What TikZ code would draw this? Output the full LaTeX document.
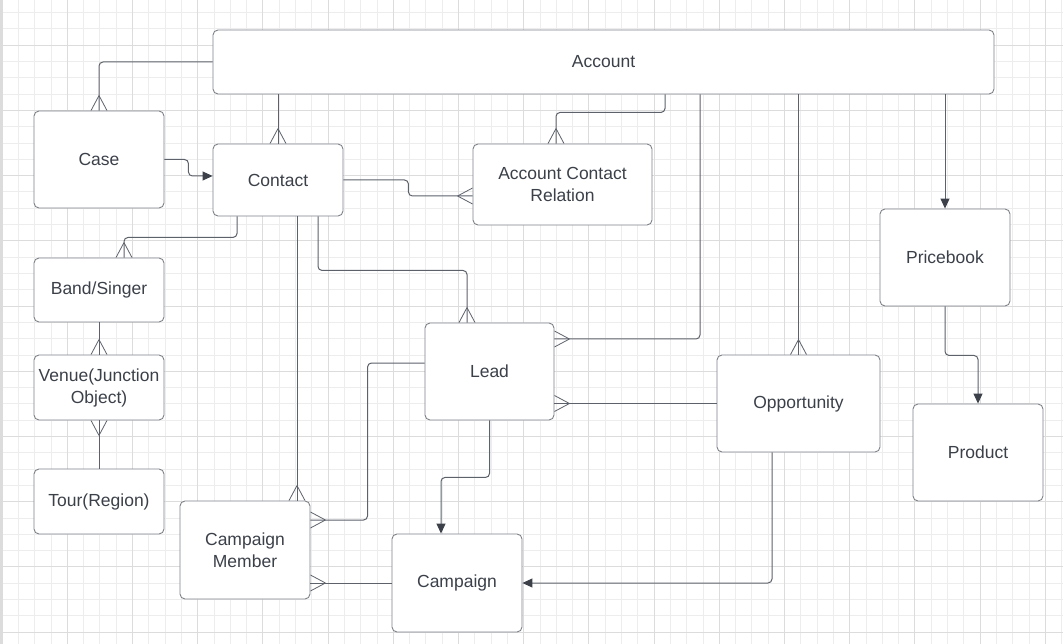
\documentclass[tikz,border=0pt]{standalone}
\usepackage{fontspec}
\setmainfont{Liberation Sans}
\usetikzlibrary{arrows.meta,decorations.markings,calc}
\definecolor{gridminor}{HTML}{EDEDED}
\definecolor{gridmajor}{HTML}{DCDCDC}
\definecolor{boxline}{HTML}{7E8289}
\definecolor{connline}{HTML}{5D626A}
\definecolor{txtcol}{HTML}{3B4049}
\definecolor{tipcol}{HTML}{3B4049}
\tikzset{
  entity/.style={draw=boxline,fill=white,line width=0.9pt,rounded corners=5pt,
    inner sep=0pt,align=center,text=txtcol,font=\fontsize{17.5}{22}\selectfont},
  conn/.style={draw=connline,line width=1pt,rounded corners=4pt},
  arr/.style={-{Triangle[length=10pt,width=9pt,fill=tipcol,color=tipcol]}},
  crow/.style={postaction={decorate,decoration={markings,
    mark=at position 1 with {\draw[draw=connline,line width=0.8pt,sharp corners]
      (-15pt,0) -- (0,8pt) (-15pt,0) -- (0,-8pt);}}}}
}
\begin{document}
\begin{tikzpicture}[x=1pt,y=-1pt]
\useasboundingbox (0,0) rectangle (1063,644);
\fill[white] (0,0) rectangle (1063,644);
% grid
\foreach \i in {0,...,65} {\draw[gridminor,line width=0.8pt] ({2+16.3*\i},0) -- ({2+16.3*\i},644);}
\foreach \j in {0,...,38} {\draw[gridminor,line width=0.8pt] (0,{12.6+16.3*\j}) -- (1063,{12.6+16.3*\j});}
\foreach \i in {0,...,16} {\draw[gridmajor,line width=0.9pt] ({2+65.2*\i},0) -- ({2+65.2*\i},644);}
\foreach \j in {0,...,9} {\draw[gridmajor,line width=0.9pt] (0,{45.2+65.2*\j}) -- (1063,{45.2+65.2*\j});}
\fill[gridmajor] (0,0) rectangle (3,644);

% entities
\node[entity,minimum width=781pt,minimum height=64pt] (account) at (603.5,62) {Account};
\node[entity,minimum width=130pt,minimum height=97pt] (case) at (99,159.5) {Case};
\node[entity,minimum width=130pt,minimum height=72pt] (contact) at (278,180) {Contact};
\node[entity,minimum width=179pt,minimum height=81pt] (acr) at (562.5,184.5) {Account Contact\\Relation};
\node[entity,minimum width=130pt,minimum height=64pt] (band) at (99,290) {Band/Singer};
\node[entity,minimum width=130pt,minimum height=65pt] (venue) at (99,387.5) {Venue(Junction\\Object)};
\node[entity,minimum width=130pt,minimum height=65pt] (tour) at (99,501.5) {Tour(Region)};
\node[entity,minimum width=130pt,minimum height=98pt] (cm) at (245,550) {Campaign\\Member};
\node[entity,minimum width=129pt,minimum height=97pt] (lead) at (489.5,371.5) {Lead};
\node[entity,minimum width=130pt,minimum height=98pt] (campaign) at (457,583) {Campaign};
\node[entity,minimum width=163pt,minimum height=97pt] (opp) at (798.5,403.5) {Opportunity};
\node[entity,minimum width=130pt,minimum height=97pt] (price) at (945,257.5) {Pricebook};
\node[entity,minimum width=130pt,minimum height=97pt] (product) at (978,452.5) {Product};

% connectors
\draw[conn,crow] (account.west) -| (case.north);
\draw[conn,crow] (account.south -| contact.north) -- (contact.north);
\draw[conn,arr] (case.east) -- ++(24,0) |- ([yshift=4pt]contact.west);
\draw[conn,crow] ([xshift=-41pt]contact.south) -- ++(0,21) -| ([xshift=25pt]band.north);
\draw[conn,crow] (contact.east) -- ++(65,0) |- ([yshift=-11.5pt]acr.west);
\draw[conn,crow] ([xshift=61.5pt]account.south) -- ++(0,18) -| ([xshift=-6.5pt]acr.north);
\draw[conn,crow] ([xshift=96.5pt]account.south) |- ([yshift=32.5pt]lead.east);
\draw[conn,crow] (account.south -| opp.north) -- (opp.north);
\draw[conn,arr] (account.south -| price.north) -- (price.north);
\draw[conn,arr] (price.south) -- ++(0,49) -| (product.north);
\draw[conn,crow] ([xshift=40pt]contact.south) -- ++(0,54) -| ([xshift=-22.5pt]lead.north);
\draw[conn,crow] ([xshift=19pt]contact.south) -- ([xshift=52pt]cm.north);
\draw[conn,crow] ([yshift=8.5pt]lead.west) -- ++(-57,0) |- ([yshift=30pt]cm.east);
\draw[conn,crow] (campaign.west) -- (campaign.west -| cm.east);
\draw[conn,arr] (lead.south) -- ++(0,57) -| ([xshift=-16pt]campaign.north);
\draw[conn,crow] (opp.west) -- (opp.west -| lead.east);
\draw[conn,arr] ([xshift=-26.5pt]opp.south) |- (campaign.east);
\draw[conn,crow] (band.south) -- (venue.north);
\draw[conn,crow] (tour.north) -- (venue.south);
\end{tikzpicture}
\end{document}
